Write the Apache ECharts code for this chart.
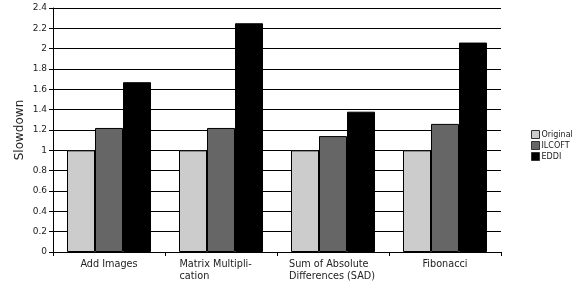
<!DOCTYPE html>
<html>
<head>
<meta charset="utf-8">
<script src="https://cdn.jsdelivr.net/npm/echarts@6/dist/echarts.min.js"></script>
<style>
  html, body { margin: 0; padding: 0; background: #fff; }
  #chart { width: 577px; height: 284px; }
</style>
</head>
<body>
<div id="chart"></div>
<script>
  const categories = [
    "{a|Add Images}",
    "{m|Matrix Multipli-}\n{m|cation}",
    "{s|Sum of Absolute}\n{s|Differences (SAD)}",
    "{a|Fibonacci}",
  ];
  const original = [1, 1, 1, 1];
  const ilcoft = [1.22, 1.22, 1.14, 1.26];
  const eddi = [1.67, 2.25, 1.38, 2.06];

  const textColor = "#222";
  const font = "DejaVu Sans";

  const chart = echarts.init(document.getElementById("chart"));

  function barSeries(name, data, color) {
    return {
      name: name,
      type: "bar",
      data: data,
      barWidth: 28,
      barGap: "0%",
      itemStyle: { color: color, borderColor: "#000", borderWidth: 1 },
    };
  }

  chart.setOption({
    animation: false,
    backgroundColor: "#fff",
    textStyle: { fontFamily: font },
    grid: { left: 53, right: 76, top: 8, bottom: 32 },
    legend: {
      orient: "vertical",
      left: 526,
      top: 125,
      itemWidth: 8,
      itemHeight: 8,
      itemGap: 2,
      icon: "rect",
      textStyle: { fontSize: 8, color: textColor, fontFamily: font, padding: [0, 0, 0, -3] },
      itemStyle: { borderColor: "#333", borderWidth: 1 },
      data: ["Original", "ILCOFT", "EDDI"],
    },
    xAxis: {
      type: "category",
      data: categories,
      axisLine: { lineStyle: { color: "#000", width: 1 } },
      axisTick: { show: true, interval: 0, length: 4, lineStyle: { color: "#000" } },
      axisLabel: {
        interval: 0,
        margin: 6,
        color: textColor,
        fontSize: 9.7,
        lineHeight: 12,
        fontFamily: font,
        rich: {
          a: { fontSize: 9.7, lineHeight: 12, fontFamily: font, color: textColor },
          m: { fontSize: 9.7, lineHeight: 12, fontFamily: font, color: textColor, width: 83, align: "left" },
          s: { fontSize: 9.7, lineHeight: 12, fontFamily: font, color: textColor, width: 88, align: "left" },
        },
      },
    },
    yAxis: {
      type: "value",
      min: 0,
      max: 2.4,
      interval: 0.2,
      name: "Slowdown",
      nameLocation: "middle",
      nameGap: 27,
      nameMoveOverlap: false,
      nameTextStyle: { fontSize: 12, color: textColor, fontFamily: font },
      axisLine: { show: true, lineStyle: { color: "#000", width: 1 } },
      axisTick: { show: true, length: 4, lineStyle: { color: "#000" } },
      axisLabel: { margin: 6, fontSize: 9, color: textColor, fontFamily: font },
      splitLine: { lineStyle: { color: "#000", width: 1 } },
    },
    series: [
      barSeries("Original", original, "#cccccc"),
      barSeries("ILCOFT", ilcoft, "#666666"),
      barSeries("EDDI", eddi, "#000000"),
    ],
  });
</script>
</body>
</html>
